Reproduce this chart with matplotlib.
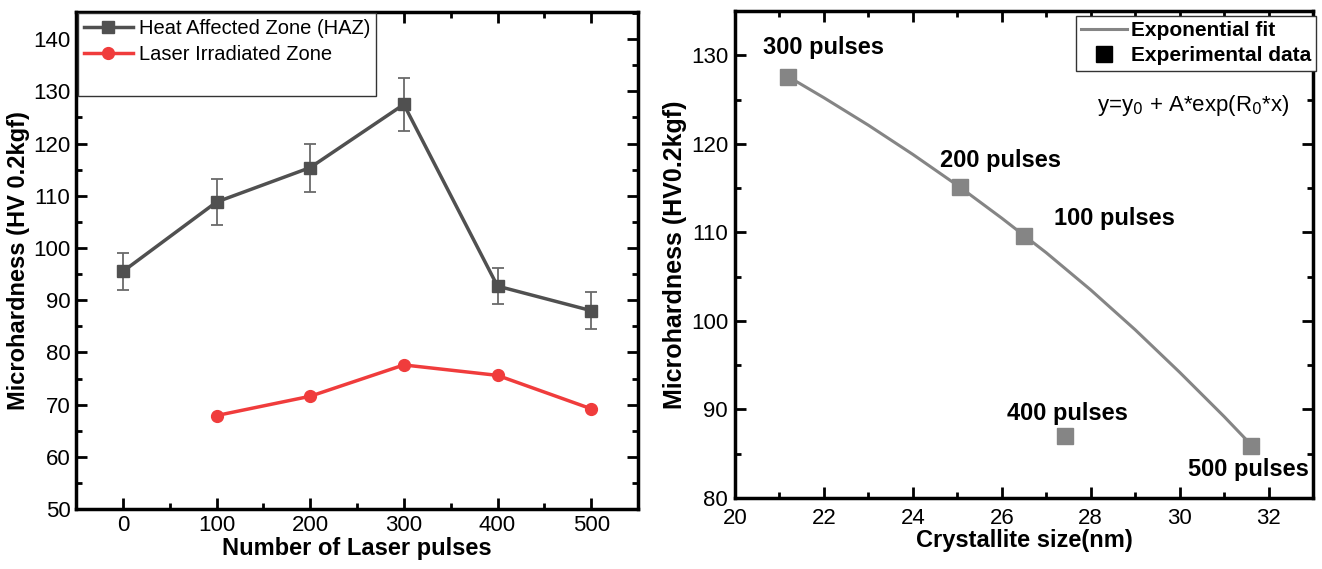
import numpy as np
import matplotlib.pyplot as plt
from matplotlib.lines import Line2D
from matplotlib.ticker import MultipleLocator

plt.rcParams['font.family'] = ['Liberation Sans', 'DejaVu Sans']

# left panel: microhardness vs number of pulses
pulses = [0, 100, 200, 300, 400, 500]
haz = [95.5, 108.8, 115.4, 127.5, 92.7, 88.0]
haz_err = [3.6, 4.4, 4.6, 5.0, 3.4, 3.5]
lz_pulses = [100, 200, 300, 400, 500]
lz = [67.9, 71.6, 77.6, 75.6, 69.2]

# right panel: microhardness vs crystallite size
cryst = [21.19, 25.06, 26.5, 27.42, 31.61]
hv = [127.5, 115.1, 109.6, 87.0, 85.9]
point_labels = ['300 pulses', '200 pulses', '100 pulses', '400 pulses', '500 pulses']
fit_x = [21.19, 22.0, 23.0, 24.0, 25.06, 26.0, 27.0, 28.0, 29.0, 30.0, 31.0, 31.61]
fit_y = [127.6, 125.2, 122.1, 118.8, 115.1, 111.6, 107.7, 103.5, 99.0, 94.2, 89.2, 86.0]

haz_col = '#505050'
red = '#f03c3c'
gray = '#858585'

fig = plt.figure(figsize=(13.22, 5.69), dpi=100)
ax1 = fig.add_axes([0.0575, 0.1054, 0.4251, 0.8735])
ax2 = fig.add_axes([0.556, 0.1248, 0.4372, 0.8559])


def style(ax, fs):
    for s in ax.spines.values():
        s.set_linewidth(2.5)
    ax.tick_params(which='both', direction='in', top=True, right=True,
                   width=2, labelsize=fs, pad=4)
    ax.tick_params(which='major', length=8)
    ax.tick_params(which='minor', length=4)


# ---- left
ax1.errorbar(pulses, haz, yerr=haz_err, fmt='none', ecolor='#6a6a6a',
             elinewidth=1.3, capsize=4, capthick=1.3, zorder=2)
ax1.plot(pulses, haz, '-s', color=haz_col, lw=2.5, ms=9, zorder=3)
ax1.plot(lz_pulses, lz, '-o', color=red, lw=2.5, ms=8.5, zorder=3)
ax1.set_xlim(-50, 550)
ax1.set_ylim(50, 145.2)
ax1.xaxis.set_major_locator(MultipleLocator(100))
ax1.xaxis.set_minor_locator(MultipleLocator(50))
ax1.yaxis.set_major_locator(MultipleLocator(10))
ax1.yaxis.set_minor_locator(MultipleLocator(5))
style(ax1, 16)
ax1.set_xlabel('Number of Laser pulses', fontsize=17, fontweight='bold', labelpad=1)
ax1.set_ylabel('Microhardness (HV 0.2kgf)', fontsize=17, fontweight='bold', labelpad=2)

h1 = [Line2D([], [], color=haz_col, marker='s', lw=2.5, ms=9),
      Line2D([], [], color=red, marker='o', lw=2.5, ms=8.5),
      Line2D([], [], lw=0)]
leg1 = ax1.legend(h1, ['Heat Affected Zone (HAZ)', 'Laser Irradiated Zone', ' '],
                  loc='upper left', bbox_to_anchor=(0.004, 0.998), fontsize=14.5,
                  fancybox=False, edgecolor='#333333', framealpha=1,
                  handlelength=2.4, handletextpad=0.3, borderpad=0.3,
                  labelspacing=0.35, borderaxespad=0)
leg1.get_frame().set_linewidth(1.0)

# ---- right
ax2.plot(fit_x, fit_y, '-', color=gray, lw=2.2, zorder=2)
ax2.plot(cryst, hv, 's', color=gray, ms=12, zorder=3)
ax2.set_xlim(20, 33)
ax2.set_ylim(80, 135)
ax2.xaxis.set_major_locator(MultipleLocator(2))
ax2.xaxis.set_minor_locator(MultipleLocator(1))
ax2.yaxis.set_major_locator(MultipleLocator(10))
ax2.yaxis.set_minor_locator(MultipleLocator(5))
style(ax2, 16)
ax2.tick_params(axis='x', pad=7)
ax2.tick_params(axis='y', pad=5)
ax2.set_xlabel('Crystallite size(nm)', fontsize=17, fontweight='bold', labelpad=0)
ax2.set_ylabel('Microhardness (HV0.2kgf)', fontsize=18, fontweight='bold', labelpad=3)

text_pos = [(21.98, 130.9), (25.97, 118.1), (28.54, 111.6), (27.48, 89.5), (31.55, 83.2)]
for lab, (tx, ty) in zip(point_labels, text_pos):
    ax2.text(tx, ty, lab, ha='center', va='center', fontsize=17, fontweight='bold')

ax2.text(0.96, 0.805, r'y=y$_0$ + A*exp(R$_0$*x)', transform=ax2.transAxes,
         ha='right', va='center', fontsize=16)

h2 = [Line2D([], [], color=gray, lw=2.2),
      Line2D([], [], color='black', marker='s', lw=0, ms=12)]
leg2 = ax2.legend(h2, ['Exponential fit', 'Experimental data'], loc='upper right',
                  bbox_to_anchor=(1.006, 0.99), prop={'weight': 'bold', 'size': 15},
                  fancybox=False, edgecolor='#333333', framealpha=1,
                  handlelength=2.2, handletextpad=0.2, borderpad=0.25,
                  labelspacing=0.3, borderaxespad=0)
leg2.get_frame().set_linewidth(1.0)

fig.savefig('out.png', dpi=100)
